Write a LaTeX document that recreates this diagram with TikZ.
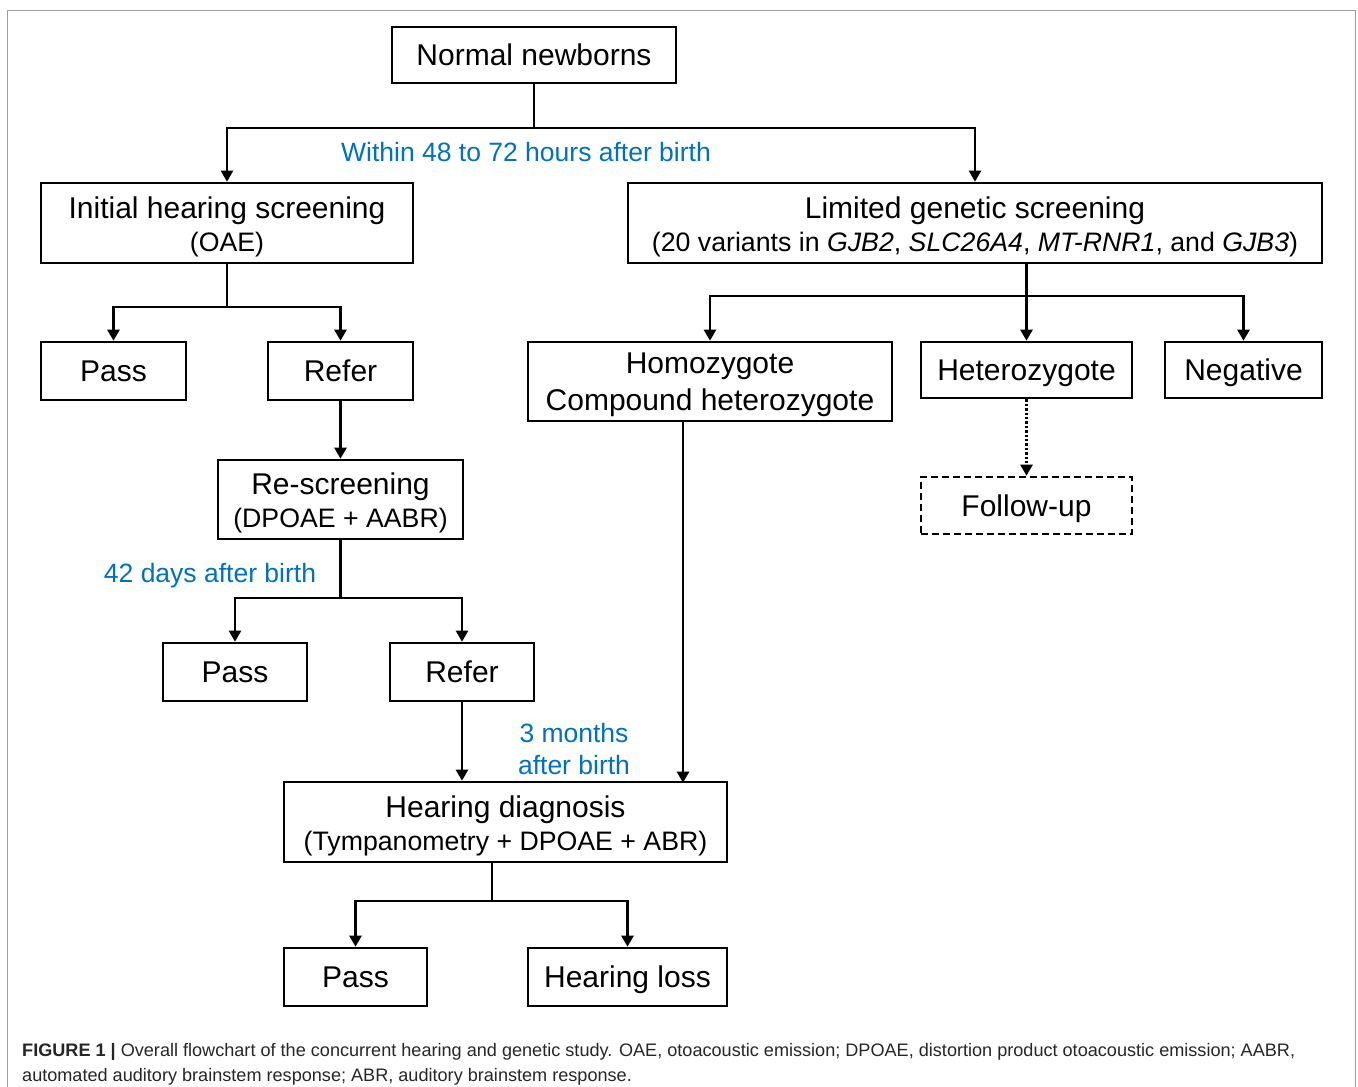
\documentclass[tikz,border=0pt]{standalone}
\usepackage{fontspec}
\setmainfont{Liberation Sans}
\usetikzlibrary{arrows.meta}
\definecolor{noteblue}{HTML}{0070C0}
\newcommand\subline[1]{{\fontsize{26.7}{33}\selectfont #1}}

\begin{document}
\begin{tikzpicture}[x=1pt, y=-1pt,
        box/.style={draw, line width=2.6pt, inner sep=0pt, align=center, font=\fontsize{30}{33}\selectfont},
        onebox/.style={box, text height=21.5pt, text depth=0pt},
        arr/.style={line width=2.4pt, -{Triangle[width=12pt,length=11pt]}},
        note/.style={text=noteblue, inner sep=0pt, align=center, font=\fontsize{26.5}{32}\selectfont}]
        \useasboundingbox (0,0) rectangle (1358,1087);
        \draw[gray!75, line width=1pt] (7.5,1095) -- (7.5,10) -- (1355,10) -- (1355,1095);

        % hearing branch
        \node[onebox, minimum width=284, minimum height=56] (nb) at (534,55) {Normal newborns};
        \node[box, minimum width=372, minimum height=80] (ihs) at (227,223) {\rule{0pt}{28.6pt}Initial hearing screening\\\subline{(OAE)}};
        \node[onebox, minimum width=145, minimum height=58] (pass1) at (113.5,371) {Pass};
        \node[onebox, minimum width=145, minimum height=58] (refer1) at (340.5,371) {Refer};
        \node[box, minimum width=245, minimum height=79] (resc) at (340.5,499.5) {\rule{0pt}{28.6pt}Re-screening\\\subline{(DPOAE + AABR)}};
        \node[onebox, minimum width=144, minimum height=58] (pass2) at (235,672) {Pass};
        \node[onebox, minimum width=144, minimum height=58] (refer2) at (462,672) {Refer};
        \node[box, minimum width=443, minimum height=80] (hd) at (505.5,822) {\rule{0pt}{28.6pt}Hearing diagnosis\\\subline{(Tympanometry + DPOAE + ABR)}};
        \node[onebox, minimum width=143, minimum height=58] (pass3) at (355.5,977) {Pass};
        \node[onebox, minimum width=199, minimum height=58] (loss) at (627.5,977) {Hearing loss};

        % genetic branch
        \node[box, minimum width=694, minimum height=80] (lgs) at (975,223) {\rule{0pt}{28.6pt}Limited genetic screening\\\subline{(20 variants in \textit{GJB2}, \textit{SLC26A4}, \textit{MT-RNR1}, and \textit{GJB3})}};
        \node[box, minimum width=364, minimum height=79, font=\fontsize{30}{37}\selectfont] (homo) at (710,381.5) {\rule{0pt}{28pt}Homozygote\\Compound heterozygote};
        \node[onebox, minimum width=211, minimum height=56] (het) at (1026.5,370) {Heterozygote};
        \node[onebox, minimum width=157, minimum height=56] (neg) at (1243.5,370) {Negative};
        \node[onebox, dash pattern=on 7pt off 4pt, minimum width=211, minimum height=57] (fup) at (1026.5,505.5) {Follow-up};

        % timing notes
        \node[note, text depth=0pt] (t1) at (526,152) {Within 48 to 72 hours after birth};
        \node[note, text depth=0pt] (t2) at (210,573) {42 days after birth};
        \node[note] (t3) at (574,749) {3 months\\ after birth};

        % junctions
        \coordinate (j1) at (534,128);
        \coordinate (j2) at (227,307);
        \coordinate (j3) at (340.5,598);
        \coordinate (j4) at (492,901);
        \coordinate (j5) at (1026.5,296);
        \coordinate (c1) at (683,0);

        \draw[arr] (nb.south) -- (j1) -| (ihs.north);
        \draw[arr] (j1) -| (lgs.north);
        \draw[arr] (ihs.south) -- (j2) -| (pass1.north);
        \draw[arr] (j2) -| (refer1.north);
        \draw[arr] (refer1.south) -- (resc.north);
        \draw[arr] (resc.south) -- (j3) -| (pass2.north);
        \draw[arr] (j3) -| (refer2.north);
        \draw[arr] (refer2.south) -- (refer2.south |- hd.north);
        \draw[arr] (j4 |- hd.south) -- (j4) -| (pass3.north);
        \draw[arr] (j4) -| (loss.north);
        \draw[arr] (j5 |- lgs.south) -- (j5) -| (homo.north);
        \draw[arr] (j5) -- (het.north);
        \draw[arr] (j5) -| (neg.north);
        \draw[arr] (homo.south -| c1) -- ([yshift=-2]hd.north -| c1);
        \draw[arr, dotted] (het.south) -- (fup.north);

        \node[anchor=base west, align=left, inner sep=0pt, text=black!85, font=\fontsize{18.1}{25}\selectfont] (cap) at (22,1081.5) {\textbf{FIGURE 1 |} Overall flowchart of the concurrent hearing and genetic study. OAE, otoacoustic emission; DPOAE, distortion product otoacoustic emission; AABR,\\automated auditory brainstem response; ABR, auditory brainstem response.};
    \end{tikzpicture}
\end{document}
